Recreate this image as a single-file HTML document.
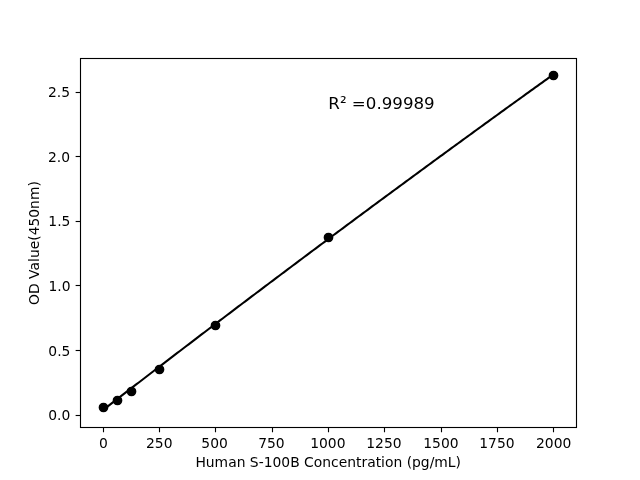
<!DOCTYPE html>
<html><head><meta charset="utf-8"><title>Standard Curve</title>
<style>html,body{margin:0;padding:0;background:#fff;width:640px;height:480px;overflow:hidden}svg{display:block;will-change:transform}</style>
</head><body>
<svg width="640" height="480" viewBox="0 0 640 480">
<rect x="0" y="0" width="640" height="480" fill="#fff"/>
<defs><clipPath id="ax"><rect x="80.000" y="57.600" width="496.000" height="369.600"/></clipPath></defs>
<polyline clip-path="url(#ax)" points="102.55,410.40 104.81,408.65 107.08,406.90 109.34,405.15 111.61,403.40 113.87,401.65 116.14,399.90 118.41,398.16 120.67,396.41 122.94,394.66 125.20,392.92 127.47,391.17 129.74,389.43 132.00,387.68 134.27,385.94 136.53,384.20 138.80,382.46 141.07,380.72 143.33,378.98 145.60,377.24 147.86,375.50 150.13,373.76 152.39,372.02 154.66,370.28 156.93,368.55 159.19,366.81 161.46,365.08 163.72,363.34 165.99,361.61 168.26,359.87 170.52,358.14 172.79,356.41 175.05,354.68 177.32,352.95 179.59,351.22 181.85,349.49 184.12,347.76 186.38,346.03 188.65,344.30 190.91,342.57 193.18,340.85 195.45,339.12 197.71,337.40 199.98,335.67 202.24,333.95 204.51,332.22 206.78,330.50 209.04,328.78 211.31,327.06 213.57,325.34 215.84,323.62 218.11,321.90 220.37,320.18 222.64,318.46 224.90,316.74 227.17,315.03 229.43,313.31 231.70,311.59 233.97,309.88 236.23,308.16 238.50,306.45 240.76,304.74 243.03,303.03 245.30,301.31 247.56,299.60 249.83,297.89 252.09,296.18 254.36,294.47 256.62,292.76 258.89,291.06 261.16,289.35 263.42,287.64 265.69,285.94 267.95,284.23 270.22,282.52 272.49,280.82 274.75,279.12 277.02,277.41 279.28,275.71 281.55,274.01 283.82,272.31 286.08,270.61 288.35,268.91 290.61,267.21 292.88,265.51 295.14,263.81 297.41,262.11 299.68,260.42 301.94,258.72 304.21,257.03 306.47,255.33 308.74,253.64 311.01,251.94 313.27,250.25 315.54,248.56 317.80,246.87 320.07,245.18 322.34,243.49 324.60,241.80 326.87,240.11 329.13,238.42 331.40,236.73 333.66,235.04 335.93,233.36 338.20,231.67 340.46,229.99 342.73,228.30 344.99,226.62 347.26,224.93 349.53,223.25 351.79,221.57 354.06,219.89 356.32,218.21 358.59,216.53 360.86,214.85 363.12,213.17 365.39,211.49 367.65,209.81 369.92,208.14 372.18,206.46 374.45,204.78 376.72,203.11 378.98,201.43 381.25,199.76 383.51,198.09 385.78,196.41 388.05,194.74 390.31,193.07 392.58,191.40 394.84,189.73 397.11,188.06 399.38,186.39 401.64,184.72 403.91,183.06 406.17,181.39 408.44,179.72 410.70,178.06 412.97,176.39 415.24,174.73 417.50,173.06 419.77,171.40 422.03,169.74 424.30,168.08 426.57,166.42 428.83,164.75 431.10,163.10 433.36,161.44 435.63,159.78 437.89,158.12 440.16,156.46 442.43,154.80 444.69,153.15 446.96,151.49 449.22,149.84 451.49,148.18 453.76,146.53 456.02,144.88 458.29,143.23 460.55,141.57 462.82,139.92 465.09,138.27 467.35,136.62 469.62,134.97 471.88,133.32 474.15,131.68 476.41,130.03 478.68,128.38 480.95,126.74 483.21,125.09 485.48,123.45 487.74,121.80 490.01,120.16 492.28,118.52 494.54,116.87 496.81,115.23 499.07,113.59 501.34,111.95 503.61,110.31 505.87,108.67 508.14,107.03 510.40,105.40 512.67,103.76 514.93,102.12 517.20,100.49 519.47,98.85 521.73,97.22 524.00,95.58 526.26,93.95 528.53,92.32 530.80,90.69 533.06,89.05 535.33,87.42 537.59,85.79 539.86,84.16 542.13,82.53 544.39,80.91 546.66,79.28 548.92,77.65 551.19,76.03 553.45,74.40" fill="none" stroke="#000" stroke-width="2.0833" stroke-linejoin="round" stroke-linecap="square"/>
<circle cx="103.5" cy="407.5" r="4.1667" fill="#000" stroke="#000" stroke-width="1.3889"/>
<circle cx="117.5" cy="400.5" r="4.1667" fill="#000" stroke="#000" stroke-width="1.3889"/>
<circle cx="131.5" cy="391.5" r="4.1667" fill="#000" stroke="#000" stroke-width="1.3889"/>
<circle cx="159.5" cy="369.5" r="4.1667" fill="#000" stroke="#000" stroke-width="1.3889"/>
<circle cx="215.5" cy="325.5" r="4.1667" fill="#000" stroke="#000" stroke-width="1.3889"/>
<circle cx="328.5" cy="237.5" r="4.1667" fill="#000" stroke="#000" stroke-width="1.3889"/>
<circle cx="553.5" cy="75.5" r="4.1667" fill="#000" stroke="#000" stroke-width="1.3889"/>
<path d="M80.000 57.000H577.000V58.000H80.000ZM80.000 59.000H577.000V60.000H80.000ZM80.000 426.000H577.000V427.000H80.000ZM80.000 428.000H577.000V429.000H80.000ZM75.639 414.000H80.000V415.000H75.639ZM75.639 416.000H80.000V417.000H75.639ZM75.639 349.000H80.000V350.000H75.639ZM75.639 351.000H80.000V352.000H75.639ZM75.639 284.000H80.000V285.000H75.639ZM75.639 286.000H80.000V287.000H75.639ZM75.639 220.000H80.000V221.000H75.639ZM75.639 222.000H80.000V223.000H75.639ZM75.639 155.000H80.000V156.000H75.639ZM75.639 157.000H80.000V158.000H75.639ZM75.639 91.000H80.000V92.000H75.639ZM75.639 93.000H80.000V94.000H75.639Z" fill="#f1f1f1"/>
<path d="M79.944 57.944H577.056V59.056H79.944ZM79.944 426.944H577.056V428.056H79.944ZM79.944 57.944H81.056V428.056H79.944ZM575.944 57.944H577.056V428.056H575.944ZM102.944 427.500H104.056V432.361H102.944ZM158.944 427.500H160.056V432.361H158.944ZM214.944 427.500H216.056V432.361H214.944ZM271.944 427.500H273.056V432.361H271.944ZM327.944 427.500H329.056V432.361H327.944ZM383.944 427.500H385.056V432.361H383.944ZM440.944 427.500H442.056V432.361H440.944ZM496.944 427.500H498.056V432.361H496.944ZM552.944 427.500H554.056V432.361H552.944ZM75.639 414.944H80.500V416.056H75.639ZM75.639 349.944H80.500V351.056H75.639ZM75.639 284.944H80.500V286.056H75.639ZM75.639 220.944H80.500V222.056H75.639ZM75.639 155.944H80.500V157.056H75.639ZM75.639 91.944H80.500V93.056H75.639Z" fill="#000" fill-rule="nonzero"/>
<text x="103.461" y="448" text-anchor="middle" style="font-size:13.8889px;font-family:'DejaVu Sans',sans-serif">0</text>
<text x="159.273" y="448" text-anchor="middle" style="font-size:13.8889px;font-family:'DejaVu Sans',sans-serif">250</text>
<text x="214.584" y="448" text-anchor="middle" style="font-size:13.8889px;font-family:'DejaVu Sans',sans-serif">500</text>
<text x="271.465" y="448" text-anchor="middle" style="font-size:13.8889px;font-family:'DejaVu Sans',sans-serif">750</text>
<text x="327.843" y="448" text-anchor="middle" style="font-size:13.8889px;font-family:'DejaVu Sans',sans-serif">1000</text>
<text x="383.953" y="448" text-anchor="middle" style="font-size:13.8889px;font-family:'DejaVu Sans',sans-serif">1250</text>
<text x="440.930" y="448" text-anchor="middle" style="font-size:13.8889px;font-family:'DejaVu Sans',sans-serif">1500</text>
<text x="496.943" y="448" text-anchor="middle" style="font-size:13.8889px;font-family:'DejaVu Sans',sans-serif">1750</text>
<text x="553.648" y="448" text-anchor="middle" style="font-size:13.8889px;font-family:'DejaVu Sans',sans-serif">2000</text>
<text x="70.351" y="420" text-anchor="end" style="font-size:13.8889px;font-family:'DejaVu Sans',sans-serif">0.0</text>
<text x="70.428" y="356" text-anchor="end" style="font-size:13.8889px;font-family:'DejaVu Sans',sans-serif">0.5</text>
<text x="70.511" y="291" text-anchor="end" style="font-size:13.8889px;font-family:'DejaVu Sans',sans-serif">1.0</text>
<text x="70.401" y="226" text-anchor="end" style="font-size:13.8889px;font-family:'DejaVu Sans',sans-serif">1.5</text>
<text x="70.077" y="162" text-anchor="end" style="font-size:13.8889px;font-family:'DejaVu Sans',sans-serif">2.0</text>
<text x="70.080" y="97" text-anchor="end" style="font-size:13.8889px;font-family:'DejaVu Sans',sans-serif">2.5</text>
<text x="328.210" y="467" text-anchor="middle" style="font-size:13.8889px;font-family:'DejaVu Sans',sans-serif">Human S-100B Concentration (pg/mL)</text>
<text x="38.673" y="243.042" text-anchor="middle" transform="rotate(-90 38.673 243.042)" style="font-size:13.8889px;font-family:'DejaVu Sans',sans-serif">OD Value(450nm)</text>
<text x="328.326" y="109" style="font-size:16.6667px;font-family:'DejaVu Sans',sans-serif">R² =0.99989</text>
</svg>
</body></html>
